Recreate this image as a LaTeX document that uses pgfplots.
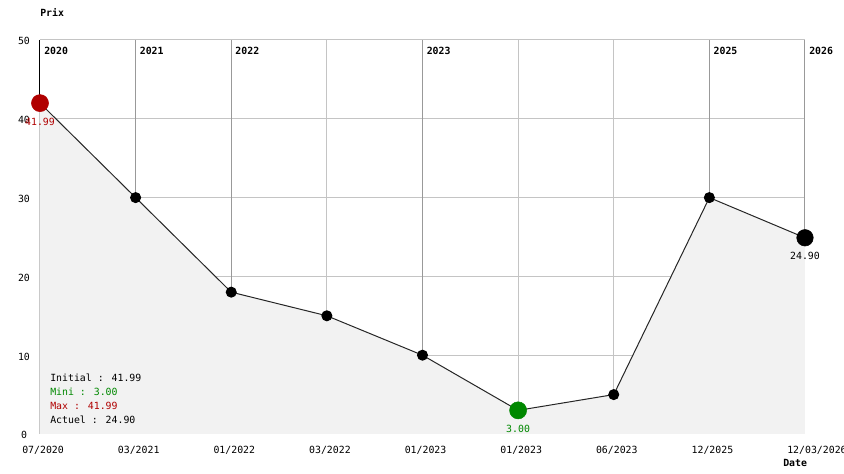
\documentclass[border=0pt]{standalone}
\usepackage{fontspec}
\setmainfont{DejaVu Sans Mono}
\usepackage{pgfplots}
\pgfplotsset{compat=1.18}
\definecolor{fillgray}{HTML}{F2F2F2}
\definecolor{gridlight}{HTML}{C4C4C4}
\definecolor{griddark}{HTML}{999999}
\definecolor{myred}{HTML}{B00000}
\definecolor{mygreen}{HTML}{008800}
\newcommand{\fs}{\fontsize{7.4}{9}\selectfont}
\begin{document}
\begin{tikzpicture}[x=0.75pt,y=0.75pt]
\begin{axis}[
  at={(0,0)}, anchor=south west,
  scale only axis, width=573.75pt, height=295.5pt,
  xmin=0, xmax=8, ymin=0, ymax=50,
  clip=false,
  axis line style={draw=none},
  tick style={draw=none},
  xtick={0,...,8},
  xticklabels={07/2020,03/2021,01/2022,03/2022,01/2023,01/2023,06/2023,12/2025,12/03/2026},
  ytick={0,10,20,30,40,50},
  grid=major,
  major grid style={gridlight, line width=0.75pt},
  extra x ticks={1,2,4,7,8},
  extra x tick labels={},
  extra x tick style={grid=major, major grid style={griddark, line width=0.75pt}},
  /pgf/number format/assume math mode=true,
  ticklabel style={font=\fs},
  xticklabel style={anchor=base west, xshift=-13.5pt, yshift=-15pt, inner sep=0pt},
  yticklabel style={anchor=base, xshift=-12pt, yshift=-3.75pt, inner sep=0pt},
]
\addplot[fill=fillgray, draw=none] coordinates {(0,41.99) (1,30) (2,18) (3,15) (4,10) (5,3) (6,5) (7,30) (8,24.9)} \closedcycle;
\draw[black, line width=0.75pt] (axis cs:0,50) -- (axis cs:0,41.99);
\addplot[black!85, line width=0.75pt, mark=*, mark size=3.75pt, mark options={black}] coordinates {(0,41.99) (1,30) (2,18) (3,15) (4,10) (5,3) (6,5) (7,30) (8,24.9)};
\addplot[only marks, mark=*, mark size=6.4pt, myred, nodes near coords={41.99}, every node near coord/.style={font=\fs, text=myred, anchor=base, yshift=-16.5pt, inner sep=0pt}] coordinates {(0,41.99)};
\addplot[only marks, mark=*, mark size=6.4pt, mygreen, nodes near coords={3.00}, every node near coord/.style={font=\fs, text=mygreen, anchor=base, yshift=-16.5pt, inner sep=0pt}] coordinates {(5,3)};
\addplot[only marks, mark=*, mark size=6.2pt, black, nodes near coords={24.90}, every node near coord/.style={font=\fs, text=black, anchor=base, yshift=-16.5pt, inner sep=0pt}] coordinates {(8,24.9)};
\end{axis}
% year labels
\foreach \xx/\yy in {4/2020, 99.6/2021, 195.2/2022, 386.5/2023, 673.4/2025, 769/2026}
  \node[anchor=base west, inner sep=0pt, font=\fs\bfseries] at (\xx,379) {\yy};
\node[anchor=base west, inner sep=0pt, font=\fs\bfseries] at (0,417) {Prix};
\node[anchor=base west, inner sep=0pt, font=\fs\bfseries] at (743,-33) {Date};
\node[anchor=base west, inner sep=0pt, font=\fs] at (10,52) {Initial : 41.99};
\node[anchor=base west, inner sep=0pt, font=\fs, text=mygreen] at (10,38) {Mini : 3.00};
\node[anchor=base west, inner sep=0pt, font=\fs, text=myred] at (10,24) {Max : 41.99};
\node[anchor=base west, inner sep=0pt, font=\fs] at (10,10) {Actuel : 24.90};
\pgfresetboundingbox
\path[use as bounding box] (-40,-40) rectangle (804,434);
\end{tikzpicture}
\end{document}
